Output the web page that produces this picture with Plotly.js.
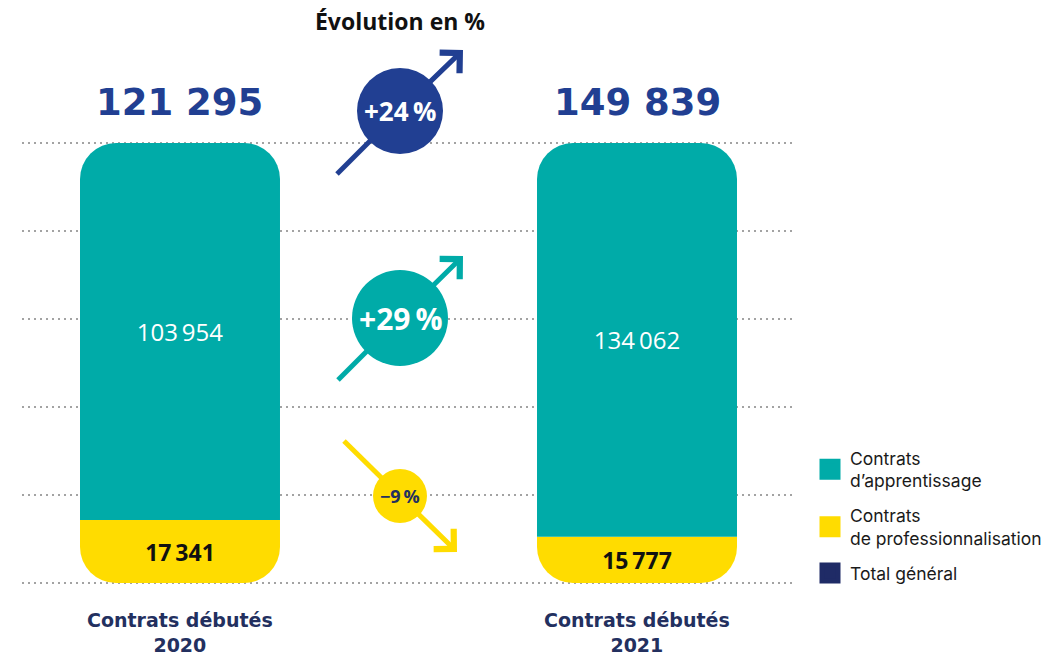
<!DOCTYPE html>
<html>
<head>
<meta charset="utf-8">
<script src="https://cdn.plot.ly/plotly-3.0.1.min.js"></script>
<style>
  html, body { margin: 0; padding: 0; background: #ffffff; }
  #chart { width: 1064px; height: 658px; }
</style>
</head>
<body>
<div id="chart"></div>
<script>
// ---------------- Data ----------------
const years = ['2020', '2021'];
const yearLabels = ['Contrats débutés<br>2020', 'Contrats débutés<br>2021'];
const apprentissage = [103954, 134062];
const professionnalisation = [17341, 15777];
const totals = [121295, 149839];
const seriesNames = ["Contrats<br>d’apprentissage", 'Contrats<br>de professionnalisation', 'Total général'];
const chartTitle = 'Évolution en %';

// ---------------- Styles ----------------
const TEAL = '#00ABA8';
const YELLOW = '#FFDC00';
const NAVY = '#213F92';
const NAVY_DARK = '#23305F';
const NAVY_LEGEND = '#1F2B66';
const FONT = '"Open Sans", "DejaVu Sans", sans-serif';
const WIDE = '"DejaVu Sans", "Open Sans", sans-serif';

const W = 1064, H = 658;
const PAD = 3;                 // px of padding so first/last gridlines are drawn
const BAR_PX = 440;            // pixel height of a full bar
const M = { l: 22, r: 269, t: 143 - PAD, b: 75 - PAD };
const PW = W - M.l - M.r, PH = H - M.t - M.b;
const px = x => (x - M.l) / PW;
const py = y => (H - M.b - y) / PH;

function fmt(n, sep) {
  return String(n).replace(/\B(?=(\d{3})+(?!\d))/g, sep);
}
function evo(a, b) {
  const v = Math.round((b / a - 1) * 100);
  return (v >= 0 ? '+' : '\u2212') + Math.abs(v) + '\u2009%';
}

// each year has its own linear scale: 0 sits at the yellow/teal boundary,
// yellow stacks downward (negative), teal stacks upward
const axisNames = ['y', 'y2'];
const BAR_W = 0.4376;

const traces = [];
years.forEach((yr, i) => {
  traces.push({
    type: 'bar', x: [i], y: [-professionnalisation[i]],
    yaxis: axisNames[i], width: BAR_W, showlegend: false, hoverinfo: 'skip',
    marker: { color: YELLOW, cornerradius: 36, line: { width: 0 } },
    text: [fmt(professionnalisation[i], '\u2009')], textposition: 'inside',
    insidetextanchor: 'middle', textangle: 0, constraintext: 'none',
    textfont: { family: FONT, size: 23, color: '#111111', weight: 700 }
  });
  traces.push({
    type: 'bar', x: [i], y: [apprentissage[i]],
    yaxis: axisNames[i], width: BAR_W, showlegend: false, hoverinfo: 'skip',
    marker: { color: TEAL, cornerradius: 36, line: { width: 0 } },
    text: [fmt(apprentissage[i], '\u2009')], textposition: 'inside',
    insidetextanchor: 'middle', textangle: 0, constraintext: 'none',
    textfont: { family: FONT, size: 24, color: '#ffffff' }
  });
});

// legend-only entries
[TEAL, YELLOW, NAVY_LEGEND].forEach((c, k) => {
  traces.push({
    type: 'scatter', mode: 'markers', x: [null], y: [null], name: seriesNames[k],
    legendgroup: 'g' + k,
    marker: { symbol: 'square', size: 16, color: c, line: { color: c, width: 5 } },
    hoverinfo: 'skip'
  });
});

// ---------------- Annotations ----------------
const annotations = [];
years.forEach((yr, i) => {
  annotations.push({
    xref: 'x', yref: axisNames[i], x: i, y: apprentissage[i], yshift: 41,
    xanchor: 'center', yanchor: 'middle', showarrow: false,
    text: '<b>' + fmt(totals[i], ' ') + '</b>',
    font: { family: WIDE, size: 37, color: NAVY }
  });
  annotations.push({
    xref: 'x', yref: 'paper', x: i, y: py(632),
    xanchor: 'center', yanchor: 'middle', showarrow: false,
    text: '<b>' + yearLabels[i] + '</b>',
    font: { family: WIDE, size: 19, color: NAVY_DARK }
  });
});

// evolution arrows (decorative layout)
const arrows = [
  { tail: [337, 174], head: [463, 50], c: [400, 111], r: 43, color: NAVY, text: evo(totals[0], totals[1]), size: 26, tc: '#ffffff' },
  { tail: [338, 380], head: [463, 256], c: [400, 318], r: 48, color: TEAL, text: evo(apprentissage[0], apprentissage[1]), size: 30, tc: '#ffffff' },
  { tail: [344, 441], head: [457, 552], c: [400, 496], r: 27, color: YELLOW, text: evo(professionnalisation[0], professionnalisation[1]), size: 18, tc: NAVY_DARK }
];
const shapes = [];
arrows.forEach(a => {
  shapes.push({
    type: 'line', xref: 'paper', yref: 'paper', layer: 'above',
    x0: px(a.tail[0]), y0: py(a.tail[1]), x1: px(a.c[0]), y1: py(a.c[1]),
    line: { color: a.color, width: 5 }
  });
  shapes.push({
    type: 'circle', xref: 'paper', yref: 'paper', layer: 'above',
    xsizemode: 'pixel', ysizemode: 'pixel',
    xanchor: px(a.c[0]), yanchor: py(a.c[1]),
    x0: -a.r, x1: a.r, y0: -a.r, y1: a.r,
    fillcolor: a.color, line: { width: 0 }
  });
  const dx = a.head[0] - a.c[0], dy = a.head[1] - a.c[1];
  const d = Math.hypot(dx, dy);
  const ex = a.c[0] + dx / d * (a.r - 4), ey = a.c[1] + dy / d * (a.r - 4);
  annotations.push({
    xref: 'paper', yref: 'paper', x: px(a.head[0]), y: py(a.head[1]),
    ax: ex - a.head[0], ay: ey - a.head[1], text: '',
    showarrow: true, arrowhead: 4, arrowsize: 1.1, arrowwidth: 5, arrowcolor: a.color
  });
  annotations.push({
    xref: 'paper', yref: 'paper', x: px(a.c[0]), y: py(a.c[1]),
    xanchor: 'center', yanchor: 'middle', showarrow: false,
    text: '<b>' + a.text + '</b>', font: { family: FONT, size: a.size, color: a.tc }
  });
});

const eps = totals.map(t => t * PAD / BAR_PX);

const layout = {
  width: W, height: H, autosize: false,
  margin: M,
  paper_bgcolor: '#ffffff', plot_bgcolor: '#ffffff',
  barmode: 'relative',
  title: {
    text: '<b>' + chartTitle + '</b>', xref: 'container', yref: 'container',
    x: 400 / W, y: 1 - 22 / H, xanchor: 'center', yanchor: 'middle',
    font: { family: FONT, size: 23, color: '#111111' }
  },
  xaxis: {
    type: 'linear', range: [-0.3457, 1.3457], showgrid: false, zeroline: false,
    showticklabels: false, ticks: '', showline: false, fixedrange: true
  },
  yaxis: {
    range: [-professionnalisation[0] - eps[0], apprentissage[0] + eps[0]],
    tick0: -professionnalisation[0], dtick: totals[0] / 5,
    showgrid: true, gridcolor: '#a3a3a3', gridwidth: 2, griddash: '2px,4px',
    zeroline: false, showticklabels: false, ticks: '', showline: false, fixedrange: true
  },
  yaxis2: {
    overlaying: 'y', range: [-professionnalisation[1] - eps[1], apprentissage[1] + eps[1]],
    showgrid: false, zeroline: false,
    showticklabels: false, ticks: '', showline: false, visible: false, fixedrange: true
  },
  legend: {
    x: px(810), y: py(440), xanchor: 'left', yanchor: 'top',
    font: { family: 'Inter, "Liberation Sans", sans-serif', size: 17.5, color: '#1a1a1a' },
    traceorder: 'grouped', tracegroupgap: 9, bgcolor: 'rgba(0,0,0,0)'
  },
  annotations: annotations,
  shapes: shapes,
  showlegend: true
};

Plotly.newPlot('chart', traces, layout, { displayModeBar: false, staticPlot: true });
</script>
</body>
</html>
